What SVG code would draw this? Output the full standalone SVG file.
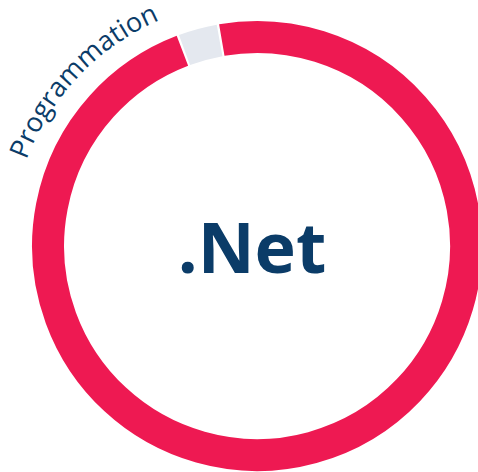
<svg xmlns="http://www.w3.org/2000/svg" width="478" height="472" viewBox="0 0 478 472">
<style>
.ring{fill:none;stroke-width:32}
.lbl{font-family:"Open Sans","Noto Sans",sans-serif;fill:#0B3C68}
</style>
<defs>
<path id="tp" d="M 11 246 A 246 246 0 0 1 257 0"/>
</defs>
<rect width="478" height="472" fill="#ffffff"/>
<g id="ring">
<path class="ring" stroke="#EE1952" d="M 221.8 40.0 A 209 209 0 1 1 182.4 50.8"/>
<path class="ring" stroke="#E4E8EF" d="M 184.5 50.0 A 209 209 0 0 1 219.6 40.4"/>
</g>
<g id="label">
<text class="lbl" font-size="27"><textPath href="#tp" startOffset="187" text-anchor="middle">Programmation</textPath></text>
</g>
<g id="center">
<text class="lbl" x="252" y="273" font-size="70" font-weight="700" text-anchor="middle">.Net</text>
</g>
</svg>
